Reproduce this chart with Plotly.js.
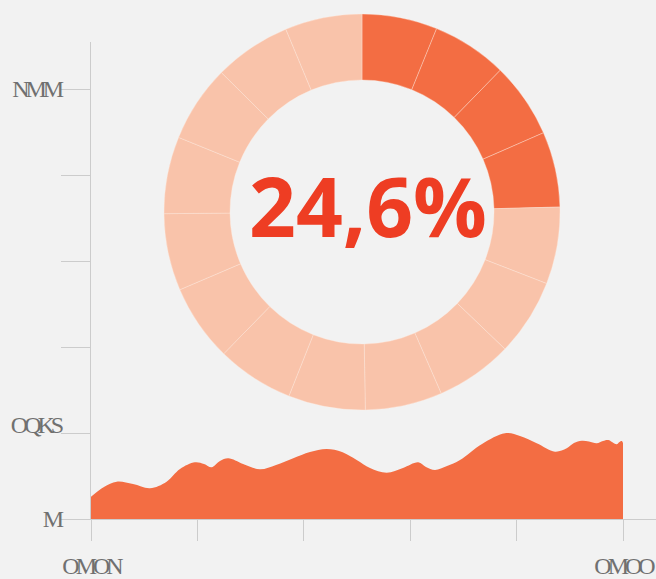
<!DOCTYPE html>
<html>
<head>
<meta charset="utf-8">
<script src="https://cdn.plot.ly/plotly-3.0.1.min.js"></script>
<style>
html,body{margin:0;padding:0;background:#f2f2f2;}
#chart{width:656px;height:579px;}
</style>
</head>
<body>
<div id="chart"></div>
<script>
// ---- data ----
const centerLabel = "24,6%";
const donutValues = [6.15, 6.15, 6.15, 6.15,
  6.2833, 6.2833, 6.2833, 6.2833, 6.2833, 6.2833,
  6.2833, 6.2833, 6.2833, 6.2833, 6.2833, 6.2833];
const donutColors = ["#f36d43", "#f36d43", "#f36d43", "#f36d43",
  "#f9c3aa", "#f9c3aa", "#f9c3aa", "#f9c3aa", "#f9c3aa", "#f9c3aa",
  "#f9c3aa", "#f9c3aa", "#f9c3aa", "#f9c3aa", "#f9c3aa", "#f9c3aa"];
const areaX = [0, 0.122, 0.2415, 0.395, 0.5545, 0.7105, 0.8365, 0.977, 1.062, 1.134,
  1.212, 1.290, 1.429, 1.588, 1.739, 1.901, 2.058, 2.215, 2.359, 2.497,
  2.622, 2.779, 2.932, 3.076, 3.148, 3.233, 3.346, 3.468, 3.675, 3.891,
  4.032, 4.189, 4.361, 4.471, 4.539, 4.612, 4.680, 4.753, 4.812, 4.862,
  4.897, 4.941, 4.967, 4.988, 5.0];
const areaY = [0.259, 0.372, 0.434, 0.407, 0.357, 0.434, 0.581, 0.659, 0.640, 0.601,
  0.674, 0.706, 0.640, 0.578, 0.628, 0.706, 0.779, 0.814, 0.779, 0.686,
  0.593, 0.538, 0.593, 0.659, 0.605, 0.570, 0.616, 0.686, 0.872, 0.997,
  0.965, 0.880, 0.783, 0.822, 0.884, 0.910, 0.901, 0.880, 0.907, 0.919,
  0.895, 0.869, 0.895, 0.907, 0.884];
const yTickVals = [0, 1, 2, 3, 4, 5];
const yTickText = ["M", "OQKS", "", "", "", "NMM"];
const xTickVals = [0, 1, 2, 3, 4, 5];
const xTickText = ["OMON", "", "", "", "", "OMOO"];

// ---- chart ----
const area = {
  type: "scatter", mode: "lines",
  x: areaX, y: areaY,
  line: {shape: "spline", smoothing: 1, width: 0, color: "#f36d43"},
  fill: "tozeroy", fillcolor: "#f36d43",
  hoverinfo: "skip", showlegend: false
};
const donut = {
  type: "pie", values: donutValues, sort: false, direction: "clockwise",
  hole: 0.667, textinfo: "none", hoverinfo: "skip", showlegend: false,
  marker: {colors: donutColors, line: {color: "rgba(255,235,225,0.6)", width: 0.6}},
  domain: {x: [164/656, 560/656], y: [1 - 410/579, 1 - 14/579]}
};
const tickFont = {family: "Liberation Serif, serif", size: 24, color: "#707070"};
const layout = {
  width: 656, height: 579,
  margin: {l: 0, r: 0, t: 0, b: 0},
  paper_bgcolor: "#f2f2f2", plot_bgcolor: "#f2f2f2",
  xaxis: {
    domain: [91/656, 1], range: [0, 565/106.4], automargin: false,
    showgrid: false, zeroline: false, showline: true, linecolor: "#cccccc", linewidth: 1,
    ticks: "outside", ticklen: 21, tickcolor: "#cccccc", tickwidth: 1,
    ticklabelstandoff: 4, ticklabeloverflow: "allow",
    tickvals: xTickVals, ticktext: xTickText, tickfont: tickFont
  },
  yaxis: {
    domain: [60/579, 537/579], range: [0, 477/86], automargin: false,
    showgrid: false, zeroline: false, showline: true, linecolor: "#cccccc", linewidth: 1,
    ticks: "outside", ticklen: 29, tickcolor: "#cccccc", tickwidth: 1,
    ticklabeloverflow: "allow",
    tickvals: yTickVals, ticktext: yTickText, tickfont: tickFont
  },
  annotations: [{
    xref: "paper", yref: "paper", x: 367.5/656, y: 1 - 205.5/579,
    xanchor: "center", yanchor: "middle", showarrow: false,
    text: "<b>" + centerLabel + "</b>",
    font: {family: "Open Sans, sans-serif", size: 82, color: "#ee3d23", weight: 800}
  }]
};
Plotly.newPlot("chart", [area, donut], layout, {staticPlot: true, displayModeBar: false}).then(function () {
  document.querySelectorAll(".xtick text, .ytick text").forEach(function (t) {
    t.style.letterSpacing = "-4px";
  });
  document.querySelectorAll(".ytick text").forEach(function (t) {
    const dy = (t.textContent === yTickText[1]) ? -8 : 0;
    t.setAttribute("transform", (t.getAttribute("transform") || "") + " translate(4," + dy + ")");
  });
});
</script>
</body>
</html>
